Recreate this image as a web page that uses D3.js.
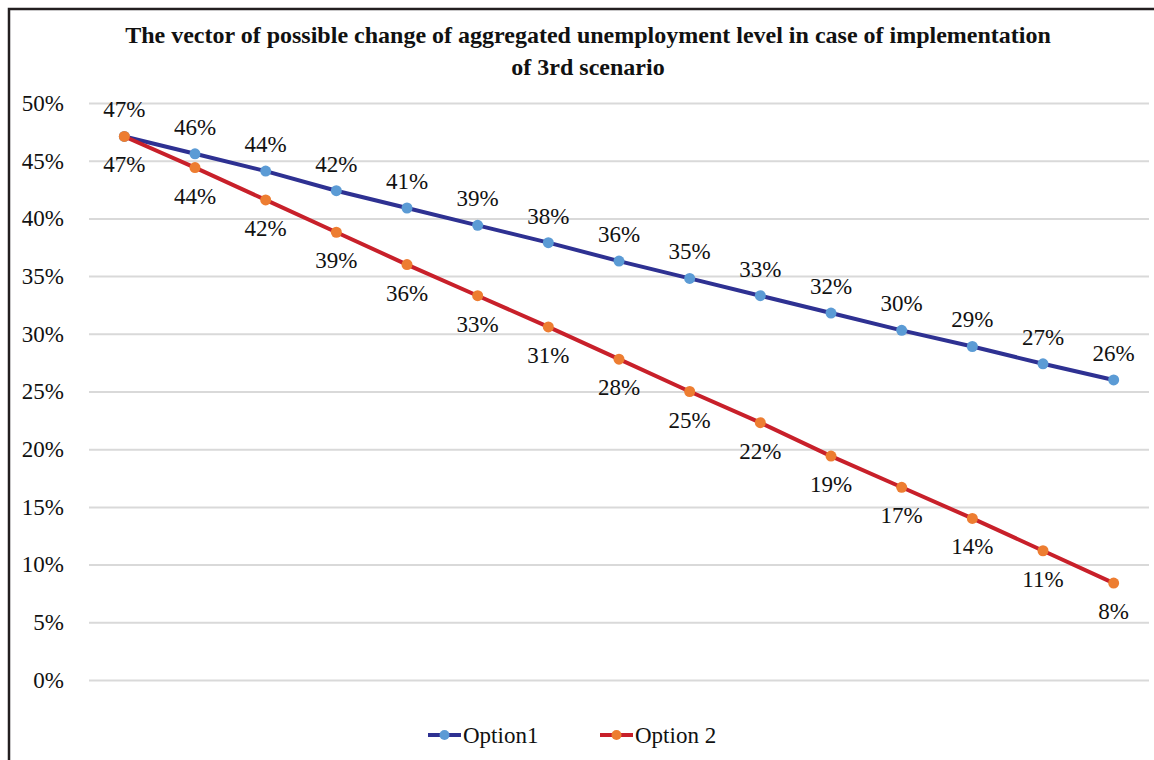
<!DOCTYPE html>
<html>
<head>
<meta charset="utf-8">
<script src="https://cdn.jsdelivr.net/npm/d3@7"></script>
<style>
  body { margin: 0; background: #fff; }
  svg { display: block; font-family: "Liberation Serif", "DejaVu Serif", serif; }
</style>
</head>
<body>
<div id="chart"></div>
<script>
const width = 1154;
const height = 760;

// data (percent)
const steps = d3.range(1, 16);
const option1 = [47.1, 45.6, 44.1, 42.4, 40.9, 39.4, 37.9, 36.3, 34.8, 33.3, 31.8, 30.3, 28.9, 27.4, 26.0];
const option2 = [47.1, 44.4, 41.6, 38.8, 36.0, 33.3, 30.6, 27.8, 25.0, 22.3, 19.4, 16.7, 14.0, 11.2, 8.4];
const yTicks = [0, 5, 10, 15, 20, 25, 30, 35, 40, 45, 50];
const seriesNames = ["Option1", "Option 2"];
const titleLines = [
    "The vector of possible change of aggregated unemployment level in case of implementation",
    "of 3rd scenario"
];

const series = [
    { name: seriesNames[0], values: option1, line: "#2E3192", dot: "#5B9BD5", labelDy: -19 },
    { name: seriesNames[1], values: option2, line: "#C8202A", dot: "#ED7D31", labelDy: 36 }
];

const margin = { top: 103, right: 5, bottom: 80, left: 89 };

const svg = d3.select("#chart")
    .append("svg")
    .attr("width", width)
    .attr("height", height);

// frame
svg.append("rect")
    .attr("x", 9)
    .attr("y", 9)
    .attr("width", 1200)
    .attr("height", 900)
    .attr("fill", "none")
    .attr("stroke", "#231f20")
    .attr("stroke-width", 2.5);

const x = d3.scaleBand()
    .domain(steps)
    .range([margin.left, width - margin.right]);

const y = d3.scaleLinear()
    .domain([0, 50])
    .range([680, margin.top]);

// title
const title = svg.append("g");
titleLines.forEach((t, i) => {
    title.append("text")
        .attr("x", 588)
        .attr("y", 43 + i * 32)
        .attr("text-anchor", "middle")
        .attr("font-weight", "bold")
        .attr("font-size", 22)
        .attr("fill", "#111")
        .text(t);
});
// shrink the long line to the reference width
const first = title.select("text").node();
const w = first.getComputedTextLength();
if (w > 0) {
    const fs = 22 * 941 / w;
    title.selectAll("text").attr("font-size", Math.min(fs, 24));
}

// grid + y labels
const yAxis = svg.append("g")
    .attr("transform", `translate(${margin.left},0)`)
    .call(d3.axisLeft(y)
        .tickValues(yTicks)
        .tickSize(-(width - margin.left - margin.right))
        .tickPadding(25)
        .tickFormat(d => d + "%"));
yAxis.select(".domain").remove();
yAxis.selectAll(".tick line")
    .attr("stroke", "#d9d9d9")
    .attr("stroke-width", 2);
yAxis.selectAll(".tick text")
    .attr("font-family", "Liberation Serif, serif")
    .attr("font-size", 23)
    .attr("fill", "#111");

const line = d3.line()
    .x((d, i) => x(steps[i]) + x.bandwidth() / 2)
    .y(d => y(d));

// each series: line then markers, series 2 on top
series.forEach(s => {
    svg.append("path")
        .datum(s.values)
        .attr("d", line)
        .attr("fill", "none")
        .attr("stroke", s.line)
        .attr("stroke-width", 4)
        .attr("stroke-linejoin", "round");

    svg.append("g")
        .selectAll("circle")
        .data(s.values)
        .join("circle")
        .attr("cx", (d, i) => x(steps[i]) + x.bandwidth() / 2)
        .attr("cy", d => y(d))
        .attr("r", 5.5)
        .attr("fill", s.dot);
});

// data labels
series.forEach(s => {
    svg.append("g")
        .selectAll("text")
        .data(s.values)
        .join("text")
        .attr("x", (d, i) => x(steps[i]) + x.bandwidth() / 2)
        .attr("y", d => y(d) + s.labelDy)
        .attr("text-anchor", "middle")
        .attr("font-size", 23)
        .attr("fill", "#111")
        .text(d => Math.round(d) + "%");
});

// legend
const legendPos = [428, 600];
series.forEach((s, i) => {
    const g = svg.append("g")
        .attr("transform", `translate(${legendPos[i]},735)`);
    g.append("line")
        .attr("x1", 0).attr("x2", 33)
        .attr("stroke", s.line)
        .attr("stroke-width", 4);
    g.append("circle")
        .attr("cx", 16.5)
        .attr("r", 5)
        .attr("fill", s.dot);
    g.append("text")
        .attr("x", 35)
        .attr("y", 8)
        .attr("font-size", 23)
        .attr("fill", "#111")
        .text(s.name);
});
</script>
</body>
</html>
